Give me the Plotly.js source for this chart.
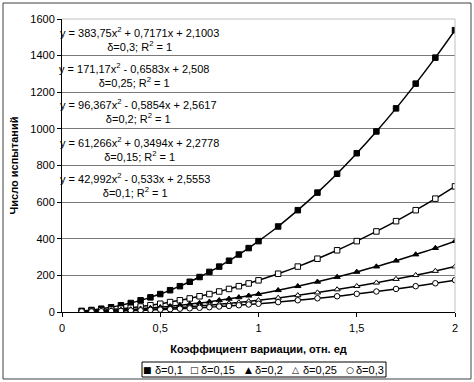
<!DOCTYPE html>
<html>
<head>
<meta charset="utf-8">
<script src="https://cdn.plot.ly/plotly-3.0.1.min.js"></script>
<style>
html,body{margin:0;padding:0;background:#fff;}
#chart{width:474px;height:382px;}
</style>
</head>
<body>
<div id="chart"></div>
<script>
// x values: coefficient of variation
var xVals = [0.1,0.15,0.2,0.25,0.3,0.35,0.4,0.45,0.5,0.55,0.6,0.65,0.7,0.75,0.8,0.85,0.9,0.95,1.0,1.1,1.2,1.3,1.4,1.5,1.6,1.7,1.8,1.9,2.0];
// number of tests for each delta
var d010 = [6,11,18,26,37,49,64,80,98,119,141,165,191,219,248,280,314,349,387,467,556,652,755,867,986,1112,1247,1389,1539];
var d015 = [4,6,9,13,18,23,30,37,45,54,64,74,86,98,112,126,141,156,173,209,248,291,337,387,440,496,556,619,686];
var d020 = [3,5,6,8,11,14,18,22,26,31,37,43,49,56,64,72,80,89,98,119,141,165,191,219,248,280,314,349,387];
var d025 = [3,4,5,6,8,10,12,15,18,21,25,28,33,37,42,47,52,58,64,77,91,106,123,141,160,180,201,224,248];
var d030 = [3,3,4,5,6,8,9,11,13,15,18,20,23,26,30,33,37,41,45,54,64,75,86,99,112,126,141,157,174];

var seriesNames = ['δ=0,1','δ=0,15','δ=0,2','δ=0,25','δ=0,3'];
var seriesData = [d010, d015, d020, d025, d030];
var symbols = ['square','square','triangle-up','triangle-up','circle'];
var fills = ['#000','#fff','#000','#fff','#fff'];
var legendGlyphs = ['■','□','▲','△','○'];

var eqLines = [
  'y = 383,75x<sup>2</sup> + 0,7171x + 2,1003<br>δ=0,3; R<sup>2</sup> = 1',
  'y = 171,17x<sup>2</sup> - 0,6583x + 2,508<br>δ=0,25; R<sup>2</sup> = 1',
  'y = 96,367x<sup>2</sup> - 0,5854x + 2,5617<br>δ=0,2; R<sup>2</sup> = 1',
  'y = 61,266x<sup>2</sup> + 0,3494x + 2,2778<br>δ=0,15; R<sup>2</sup> = 1',
  'y = 42,992x<sup>2</sup> - 0,533x + 2,5553<br>δ=0,1; R<sup>2</sup> = 1'
];
var eqX = [0.394, 0.366, 0.387, 0.394, 0.372];
var eqY = [1491, 1294, 1095, 890, 696];

var FONT = 'Liberation Sans, Arial, sans-serif';
var traces = [];
// trend lines
for (var i = 0; i < seriesData.length; i++) {
  traces.push({
    x: xVals, y: seriesData[i], mode: 'lines', type: 'scatter',
    line: {color: '#000', width: 1.5, shape: 'spline'},
    showlegend: false, hoverinfo: 'skip'
  });
}
// markers
for (var j = 0; j < seriesData.length; j++) {
  traces.push({
    x: xVals, y: seriesData[j], mode: 'markers', type: 'scatter',
    name: seriesNames[j], showlegend: false,
    marker: {symbol: symbols[j], size: 5.5, color: fills[j], line: {color: '#000', width: 1}}
  });
}

var annotations = eqLines.map(function(t, i) {
  return {x: eqX[i], y: eqY[i], xref: 'x', yref: 'y', text: t, showarrow: false,
          align: 'center', xanchor: 'center', yanchor: 'middle',
          font: {family: FONT, size: 11, color: '#000'}};
});

// legend (drawn as text in a box below the plot)
var plotL = 62, plotW = 393, plotB = 312, plotH = 293;
function px2x(p) { return (p - plotL) / plotW; }
function px2y(p) { return (plotB - p) / plotH; }
var legGlyphPx = [147, 194.5, 248.5, 295.5, 349.5];
var legTextPx = [153, 199, 253, 301, 354];
var legY = px2y(369.5);
for (var m = 0; m < seriesNames.length; m++) {
  annotations.push({x: px2x(legGlyphPx[m]), y: legY, xref: 'paper', yref: 'paper', text: legendGlyphs[m],
    showarrow: false, xanchor: 'center', yanchor: 'middle',
    font: {family: 'DejaVu Sans, sans-serif', size: 9, color: '#000'}});
  annotations.push({x: px2x(legTextPx[m]), y: legY, xref: 'paper', yref: 'paper', text: seriesNames[m],
    showarrow: false, xanchor: 'left', yanchor: 'middle',
    font: {family: FONT, size: 11, color: '#000'}});
}

var layout = {
  width: 474, height: 382,
  margin: {l: 62, r: 19, t: 19, b: 70, autoexpand: false},
  paper_bgcolor: '#fff', plot_bgcolor: '#fff',
  font: {family: FONT, size: 11, color: '#000'},
  showlegend: false,
  xaxis: {
    range: [0, 2], tickvals: [0, 0.5, 1, 1.5, 2], ticktext: ['0','0,5','1','1,5','2'],
    showgrid: false, zeroline: false, showline: true, linecolor: '#000', linewidth: 1,
    ticks: 'outside', ticklen: 4, tickcolor: '#000', ticklabelstandoff: 2,
    title: {text: '<b>Коэффициент вариации, отн. ед</b>', font: {family: FONT, size: 11}, standoff: 12}
  },
  yaxis: {
    range: [0, 1600], tickvals: [0,200,400,600,800,1000,1200,1400,1600],
    showgrid: true, gridcolor: '#7a7a7a', gridwidth: 1, zeroline: false,
    showline: true, linecolor: '#000', linewidth: 1,
    ticks: 'outside', ticklen: 4, tickcolor: '#000',
    title: {text: '<b>Число испытаний</b>', font: {family: FONT, size: 11}, standoff: 9}
  },
  annotations: annotations,
  shapes: [
    {type: 'line', xref: 'paper', yref: 'paper', x0: 0, x1: 1, y0: 1, y1: 1, line: {color: '#c0c0c0', width: 1}},
    {type: 'line', xref: 'paper', yref: 'paper', x0: 1, x1: 1, y0: 0, y1: 1, line: {color: '#c0c0c0', width: 1}},
    {type: 'rect', xref: 'paper', yref: 'paper', x0: px2x(142), x1: px2x(386), y0: px2y(377), y1: px2y(362), line: {color: '#000', width: 1}},
    {type: 'rect', xref: 'paper', yref: 'paper', x0: px2x(3), x1: px2x(471), y0: px2y(379), y1: px2y(3), line: {color: '#404040', width: 1}}
  ]
};

Plotly.newPlot('chart', traces, layout, {displayModeBar: false, staticPlot: true});
</script>
</body>
</html>
